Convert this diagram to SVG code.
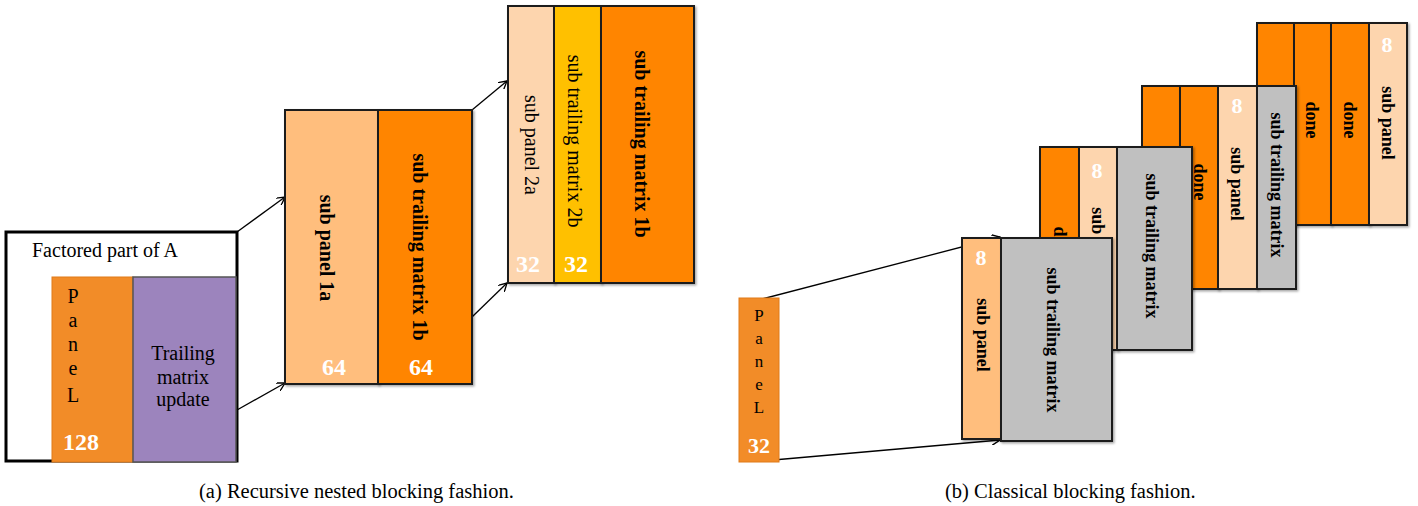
<svg xmlns="http://www.w3.org/2000/svg" width="1418" height="506" viewBox="0 0 1418 506" font-family="'Liberation Serif', 'Times New Roman', 'DejaVu Serif', serif">
<style>
text{font-family:'Liberation Serif','Times New Roman','DejaVu Serif',serif;fill:#000}
.blk{stroke:#1a1a1a;stroke-width:2;filter:url(#sh)}
.lo{fill:#FFBE7D}.dor{fill:#FF8500}.pe{fill:#FDD5AE}.go{fill:#FFC000}.gr{fill:#C0C0C0}
.vb{font-weight:bold;font-size:18px;text-anchor:middle;dominant-baseline:central}
.vb20{font-weight:bold;font-size:20px;text-anchor:middle;dominant-baseline:central}
.vn20{font-size:20px;text-anchor:middle;dominant-baseline:central}
.num{fill:#fff;font-weight:bold;text-anchor:middle}
.ltr{font-size:20px;text-anchor:middle}
.ltrs{font-size:17px;text-anchor:middle}
.cap{font-size:20.5px}
.ln{stroke:#000;stroke-width:1.3;fill:none}
</style>
<defs>
<filter id="sh" x="-10%" y="-5%" width="125%" height="115%">
<feDropShadow dx="1.5" dy="1.5" stdDeviation="1.2" flood-color="#000" flood-opacity="0.35"/>
</filter>
<marker id="ah" viewBox="0 0 10 10" refX="9" refY="5" markerWidth="9" markerHeight="9" markerUnits="userSpaceOnUse" orient="auto">
<path d="M0,0 L9,5 L0,10" fill="none" stroke="#000" stroke-width="1.5"/>
</marker>
</defs>

<!-- (a) -->
<g id="factored">
<rect x="6" y="232" width="231" height="229" fill="none" stroke="#000" stroke-width="3"/>
<text x="32" y="257" font-size="20">Factored part of A</text>
</g>
<g id="panelA">
<rect x="52" y="277" width="81" height="185" fill="#F28C28" stroke="#E07A18" stroke-width="1"/>
<text class="ltr" x="73" y="303">P</text>
<text class="ltr" x="73" y="327">a</text>
<text class="ltr" x="73" y="351">n</text>
<text class="ltr" x="73" y="375">e</text>
<text class="ltr" x="73" y="402">L</text>
<text class="num" x="81" y="450" font-size="24">128</text>
</g>
<g id="trailingA">
<rect x="133" y="277" width="103" height="185" fill="#9C84BD" stroke="#555" stroke-width="1.5"/>
<text x="183" y="360" font-size="20" text-anchor="middle">Trailing</text>
<text x="183" y="384" font-size="20" text-anchor="middle">matrix</text>
<text x="183" y="406" font-size="20" text-anchor="middle">update</text>
</g>

<g id="connectors">
<line class="ln" x1="237" y1="232" x2="285" y2="197" marker-end="url(#ah)"/>
<line class="ln" x1="237" y1="410" x2="285" y2="383" marker-end="url(#ah)"/>
<line class="ln" x1="472" y1="110" x2="507" y2="81" marker-end="url(#ah)"/>
<line class="ln" x1="472" y1="317" x2="507" y2="283" marker-end="url(#ah)"/>
<line class="ln" x1="762" y1="299" x2="1000" y2="237" marker-end="url(#ah)"/>
<line class="ln" x1="762" y1="461" x2="1000" y2="440" marker-end="url(#ah)"/>
</g>

<g id="block1">
<rect class="blk lo" x="285" y="110" width="93" height="274"/>
<rect class="blk dor" x="378" y="110" width="94" height="274"/>
<text class="vb20" transform="translate(327,248) rotate(90)">sub panel 1a</text>
<text class="vb20" transform="translate(420,247) rotate(90)">sub trailing matrix 1b</text>
<text class="num" x="334" y="375" font-size="24">64</text>
<text class="num" x="421" y="375" font-size="24">64</text>
</g>

<g id="block2">
<rect class="blk pe" x="508" y="6" width="46" height="277"/>
<rect class="blk go" x="554" y="6" width="47" height="277"/>
<rect class="blk dor" x="601" y="6" width="93" height="277"/>
<text class="vn20" transform="translate(532,145) rotate(90)">sub panel 2a</text>
<text class="vn20" transform="translate(575,141) rotate(90)">sub trailing matrix 2b</text>
<text class="vb20" transform="translate(642,144) rotate(90)">sub trailing matrix 1b</text>
<text class="num" x="528" y="272" font-size="24">32</text>
<text class="num" x="576" y="272" font-size="24">32</text>
</g>

<!-- (b) -->
<g id="layer4">
<rect class="blk dor" x="1257" y="23" width="37" height="202"/>
<rect class="blk dor" x="1294" y="23" width="37" height="202"/>
<rect class="blk dor" x="1331" y="23" width="38" height="202"/>
<rect class="blk pe" x="1369" y="23" width="38" height="202"/>
<text class="vb" transform="translate(1312,120) rotate(90)">done</text>
<text class="vb" transform="translate(1350,120) rotate(90)">done</text>
<text class="num" x="1387" y="52" font-size="22">8</text>
<text class="vb" transform="translate(1388,123) rotate(90)">sub panel</text>
</g>

<g id="layer3">
<rect class="blk dor" x="1142" y="86" width="38" height="203"/>
<rect class="blk dor" x="1180" y="86" width="38" height="203"/>
<rect class="blk pe" x="1218" y="86" width="39" height="203"/>
<rect class="blk gr" x="1257" y="86" width="39" height="203"/>
<text class="vb" transform="translate(1200,182) rotate(90)">done</text>
<text class="num" x="1237" y="113" font-size="22">8</text>
<text class="vb" transform="translate(1237,184) rotate(90)">sub panel</text>
<text class="vb" transform="translate(1277,185) rotate(90)">sub trailing matrix</text>
</g>

<g id="layer2">
<rect class="blk dor" x="1040" y="147" width="39" height="203"/>
<rect class="blk pe" x="1079" y="147" width="38" height="203"/>
<rect class="blk gr" x="1117" y="147" width="75" height="203"/>
<text class="vb" transform="translate(1060,245) rotate(90)">done</text>
<text class="num" x="1097" y="178" font-size="22">8</text>
<text class="vb" transform="translate(1098,244) rotate(90)">sub panel</text>
<text class="vb" transform="translate(1152,246) rotate(90)">sub trailing matrix</text>
</g>

<g id="panelB">
<rect x="739" y="298" width="40" height="164" fill="#F28C28" stroke="#E07A18" stroke-width="1"/>
<text class="ltrs" x="759" y="321">P</text>
<text class="ltrs" x="759" y="344">a</text>
<text class="ltrs" x="759" y="367">n</text>
<text class="ltrs" x="759" y="390">e</text>
<text class="ltrs" x="759" y="413">L</text>
<text class="num" x="759" y="453" font-size="22">32</text>
</g>

<g id="layer1">
<rect class="blk lo" x="962" y="238" width="39" height="201"/>
<rect class="blk gr" x="1001" y="238" width="111" height="203"/>
<text class="num" x="981" y="265" font-size="22">8</text>
<text class="vb" transform="translate(983,335) rotate(90)">sub panel</text>
<text class="vb" transform="translate(1053,340) rotate(90)">sub trailing matrix</text>
</g>

<g id="captions">
<text class="cap" x="199" y="498">(a) Recursive nested blocking fashion.</text>
<text class="cap" x="945" y="498">(b) Classical blocking fashion.</text>
</g>
</svg>
